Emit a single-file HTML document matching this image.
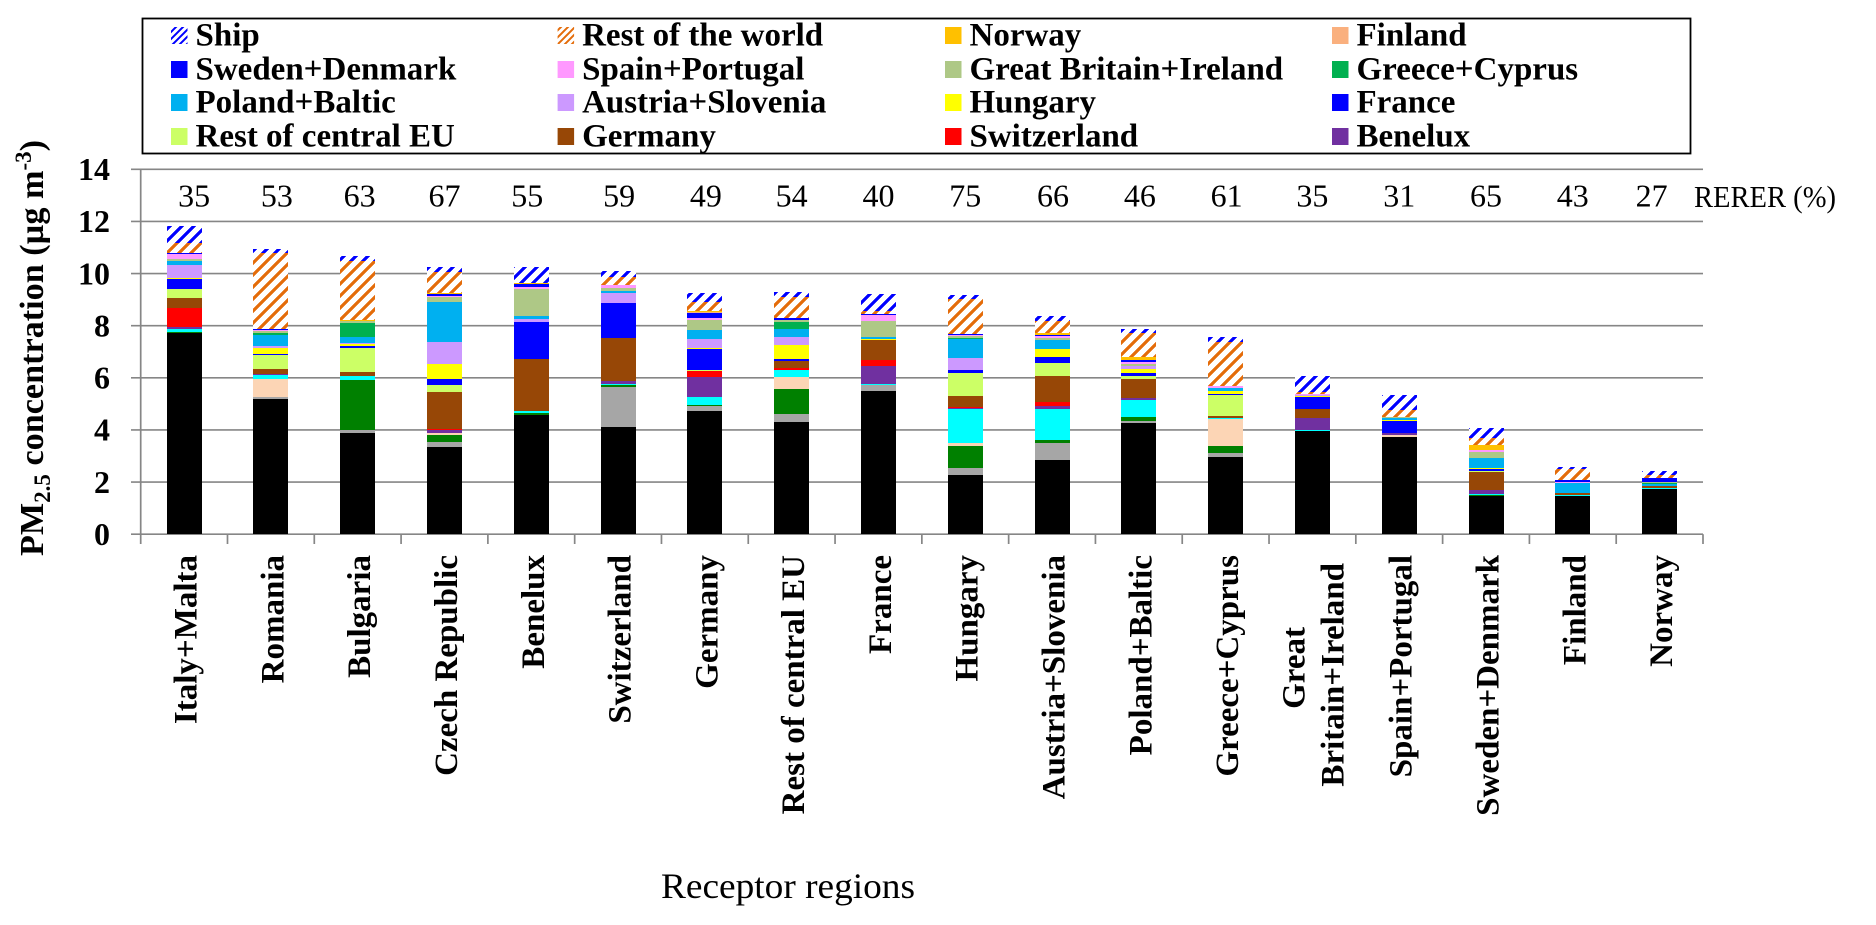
<!DOCTYPE html>
<html lang="en">
<head>
<meta charset="utf-8">
<title>PM2.5 concentration by receptor region</title>
<style>
html,body{margin:0;padding:0;background:#fff;}
#chart{display:block;width:1876px;height:925px;font-family:"Liberation Serif",serif;}
</style>
</head>
<body>
<svg id="chart" xmlns="http://www.w3.org/2000/svg" width="1876" height="925" viewBox="0 0 1876 925">
  <defs>
    <pattern id="hatch-ship" patternUnits="userSpaceOnUse" width="12" height="12">
      <rect width="12" height="12" fill="#fff"/>
      <path d="M-3 3L3 -3M0 12L12 0M9 15L15 9" stroke="#0000ff" stroke-width="3" shape-rendering="crispEdges"/>
    </pattern>
    <pattern id="hatch-row" patternUnits="userSpaceOnUse" width="12" height="12">
      <rect width="12" height="12" fill="#fff"/>
      <path d="M-3 3L3 -3M0 12L12 0M9 15L15 9" stroke="#e46c0a" stroke-width="3" shape-rendering="crispEdges"/>
    </pattern>
    <pattern id="hatch-ship-small" patternUnits="userSpaceOnUse" width="7" height="7">
      <rect width="7" height="7" fill="#fff"/>
      <path d="M-2 2L2 -2M0 7L7 0M5 9L9 5" stroke="#0000ff" stroke-width="2"/>
    </pattern>
    <pattern id="hatch-row-small" patternUnits="userSpaceOnUse" width="7" height="7">
      <rect width="7" height="7" fill="#fff"/>
      <path d="M-2 2L2 -2M0 7L7 0M5 9L9 5" stroke="#e46c0a" stroke-width="2"/>
    </pattern>
  </defs>
  <g id="grid"></g>
  <g id="bars"></g>
  <g id="axes"></g>
  <g id="labels"></g>
  <g id="legend"></g>
  <text transform="translate(43,556) rotate(-90)" font-weight="bold" font-size="34.2" fill="#000">PM<tspan font-size="23" dy="7">2.5</tspan><tspan dy="-7"> concentration (µg m</tspan><tspan font-size="23" dy="-12">-3</tspan><tspan dy="12">)</tspan></text>
  <text x="661" y="898" font-size="36" textLength="254" lengthAdjust="spacingAndGlyphs" fill="#000">Receptor regions</text>
  <text x="1694" y="207" font-size="31" textLength="142" lengthAdjust="spacingAndGlyphs" fill="#000">RERER (%)</text>
</svg>
<script>
// ---------- chart data (bottom of stack to top) ----------
const categories = ["Italy+Malta","Romania","Bulgaria","Czech Republic","Benelux","Switzerland","Germany","Rest of central EU","France","Hungary","Austria+Slovenia","Poland+Baltic","Greece+Cyprus","Great|Britain+Ireland","Spain+Portugal","Sweden+Denmark","Finland","Norway"];
const rerer = [35,53,63,67,55,59,49,54,40,75,66,46,61,35,31,65,43,27];
const yTicks = [0,2,4,6,8,10,12,14];

const unlistedBlack = [7.72,5.18,3.88,3.35,4.56,4.12,4.73,4.30,5.49,2.26,2.84,4.26,2.96,3.95,3.72,1.45,1.47,1.74];
const unlistedGray = [0,.08,.115,.19,0,1.54,.19,.31,.23,.27,.65,.08,.15,0,0,0,0,0];
const unlistedGreen = [.04,0,1.94,.27,.08,.08,.04,.96,0,.84,.115,.15,.27,0,0,.05,0,0];
const unlistedPeach = [0,.68,0,.08,0,0,0,.46,0,.115,0,0,1.04,0,.08,0,0,0];
const unlistedCyan = [.115,.15,.15,0,.08,.04,.31,.27,.04,1.31,1.19,.65,.04,.04,0,.05,.04,.04];
const benelux = [.08,.04,0,.115,0,.115,.77,0,.69,.04,.115,.08,0,.46,.08,.15,0,0];
const switzerland = [.74,0,0,.04,0,0,.23,.08,.23,.04,.15,0,0,0,0,0,0,0];
const germany = [.37,.2,.13,1.42,2.02,1.65,0,.27,.77,.42,1.0,.73,.08,.35,0,.69,.08,.08];
const restCentralEU = [.35,.54,.92,.27,0,0,.04,0,0,.88,.5,.115,.81,0,0,.04,0,0];
const france = [.38,.04,.08,.23,1.42,1.34,.81,.08,0,.115,.23,.115,.04,.46,.46,.08,0,0];
const hungary = [.05,.23,.08,.58,0,0,.04,.54,.04,0,.31,.15,.115,.04,.04,.04,0,0];
const austriaSlovenia = [.49,.08,.04,.81,.08,.35,.31,.31,0,.46,0,.115,0,.04,0,0,0,0];
const polandBaltic = [.15,.42,.23,1.57,.115,.08,.38,.31,.08,.73,.35,0,.115,0,.08,.38,.38,.08];
const greeceCyprus = [0,.08,.54,0,0,0,0,.27,0,.04,0,0,0,0,0,0,0,.04];
const greatBritainIreland = [.06,.1,.08,.17,1.04,.15,.38,.04,.61,.08,.08,.08,0,0,.04,.23,0,.04];
const spainPortugal = [.2,.01,0,.03,.08,.115,.08,0,.23,.04,.08,.08,.08,.04,0,.06,.04,0];
const swedenDenmark = [.04,.04,0,.08,.115,0,.19,.08,.04,.04,.04,.08,0,0,0,0,.08,.15];
const finland = [0,0,0,0,0,0,.04,0,0,0,0,0,0,0,0,0,0,0];
const norway = [0,0,.04,.04,.04,0,.04,0,0,0,.08,.115,0,0,0,.2,0,0];
const restOfWorld = [.38,2.92,2.26,.81,0,.27,.31,.81,.115,1.34,.46,.92,1.69,.08,.27,.27,.42,.115];
const ship = [.65,.15,.19,.19,.61,.23,.38,.19,.65,.15,.19,.15,.19,.61,.58,.38,.08,.15];

const seriesValues = [unlistedBlack,unlistedGray,unlistedGreen,unlistedPeach,unlistedCyan,benelux,switzerland,germany,restCentralEU,france,hungary,austriaSlovenia,polandBaltic,greeceCyprus,greatBritainIreland,spainPortugal,swedenDenmark,finland,norway,restOfWorld,ship];
const seriesKeys = ["unlisted-black","unlisted-gray","unlisted-green","unlisted-peach","unlisted-cyan","benelux","switzerland","germany","rest-of-central-eu","france","hungary","austria-slovenia","poland-baltic","greece-cyprus","great-britain-ireland","spain-portugal","sweden-denmark","finland","norway","rest-of-the-world","ship"];
const seriesFills = ["#000000","#a6a6a6","#008000","#fcd5b5","#00ffff","#7030a0","#ff0000","#974706","#ccff66","#0000ff","#ffff00","#cc99ff","#00b0f0","#00b050","#aec886","#ff99ff","#0000ff","#fab07e","#ffc000","url(#hatch-row)","url(#hatch-ship)"];

const legendLabels = ["Ship","Rest of the world","Norway","Finland","Sweden+Denmark","Spain+Portugal","Great Britain+Ireland","Greece+Cyprus","Poland+Baltic","Austria+Slovenia","Hungary","France","Rest of central EU","Germany","Switzerland","Benelux"];
const legendFills = ["url(#hatch-ship-small)","url(#hatch-row-small)","#ffc000","#fab07e","#0000ff","#ff99ff","#aec886","#00b050","#00b0f0","#cc99ff","#ffff00","#0000ff","#ccff66","#974706","#ff0000","#7030a0"];

// ---------- layout + axis functions ----------
const plotLeft = 140.7, plotRight = 1703, plotBottom = 534.2, plotTop = 169.3, yMax = 14;
const barWidth = 35;
const gridColor = "#868686";
// the RERER text labels are hand-placed in the source figure, slightly off the category centres
const rererNudge = [10,6,2,0,-4,1,1,0,0,0,1,1,1,0,0,0,0,-8];
const catStep = (plotRight - plotLeft) / categories.length;
function xCenter(i){ return plotLeft + catStep * (i + 0.5); }
function yScale(v){ return plotBottom - (v / yMax) * (plotBottom - plotTop); }

const NS = "http://www.w3.org/2000/svg";
function make(parent, tag, attrs, text){
  const el = document.createElementNS(NS, tag);
  for (const k in attrs) el.setAttribute(k, attrs[k]);
  if (text !== undefined) el.textContent = text;
  parent.appendChild(el);
  return el;
}
const gGrid = document.getElementById("grid");
const gBars = document.getElementById("bars");
const gAxes = document.getElementById("axes");
const gLabels = document.getElementById("labels");
const gLegend = document.getElementById("legend");

// gridlines and y tick labels
yTicks.forEach(function(t){
  const y = yScale(t);
  const line = make(gGrid, "line", {x1:131, x2:plotRight, y1:y, y2:y, stroke:gridColor, "stroke-width":1.7});
  
  
  const label = make(gLabels, "text", {x:110, y:y + 10.7, "text-anchor":"end", "font-size":32, "font-weight":"bold", fill:"#000"}, String(t));
  
  
});

// stacked bars
categories.forEach(function(cat, i){
  let cumulative = 0;
  seriesValues.forEach(function(values, s){
    const v = values[i];
    if (!v) return;
    const top = Math.round(yScale(cumulative + v));
    const bottom = Math.round(yScale(cumulative));
    cumulative += v;
    const x = Math.round(xCenter(i) - barWidth / 2);
    const seg = make(gBars, "rect", {x:x, y:top, width:barWidth, height:Math.max(1, bottom - top), fill:seriesFills[s], "shape-rendering":"crispEdges"});
    
    
  });
});

// axes and x ticks
const yAxis = make(gAxes, "line", {x1:plotLeft, x2:plotLeft, y1:plotTop, y2:544, stroke:gridColor, "stroke-width":1.7});


for (let i = 1; i <= categories.length; i++) {
  const x = plotLeft + catStep * i;
  const tick = make(gAxes, "line", {x1:x, x2:x, y1:plotBottom, y2:544, stroke:gridColor, "stroke-width":1.7});
  
  
}

// category labels and RERER values
categories.forEach(function(cat, i){
  const cx = xCenter(i);
  const parts = cat.split("|");
  if (parts.length === 1) {
    const t = make(gLabels, "text", {transform:"translate(" + (cx + 12.5) + ",555) rotate(-90)", "text-anchor":"end", "font-size":33, "font-weight":"bold", fill:"#000"}, cat);
    
    
  } else {
    const t1 = make(gLabels, "text", {transform:"translate(" + (cx - 8) + ",627) rotate(-90)", "text-anchor":"end", "font-size":33, "font-weight":"bold", fill:"#000"}, parts[0]);
    
    
    const t2 = make(gLabels, "text", {transform:"translate(" + (cx + 31) + ",563) rotate(-90)", "text-anchor":"end", "font-size":33, "font-weight":"bold", fill:"#000"}, parts[1]);
    
    
  }
  const r = make(gLabels, "text", {x:cx + rererNudge[i], y:206.7, "text-anchor":"middle", "font-size":32, fill:"#000"}, String(rerer[i]));
  
  
});

// legend
const box = make(gLegend, "rect", {x:142.5, y:18.5, width:1548, height:135, fill:"#fff", stroke:"#000", "stroke-width":1.8});


const legendCols = [171, 557.6, 945, 1332];
const legendRows = [27, 61, 94, 128];
legendLabels.forEach(function(name, i){
  const col = i % 4;
  const row = Math.floor(i / 4);
  const sw = make(gLegend, "rect", {x:legendCols[col], y:legendRows[row], width:16.5, height:17, fill:legendFills[i]});
  
  
  const lt = make(gLegend, "text", {x:legendCols[col] + 24.5, y:legendRows[row] + 18.5, "font-size":33, "font-weight":"bold", fill:"#000"}, name);
  
  
});
</script>
</body>
</html>
